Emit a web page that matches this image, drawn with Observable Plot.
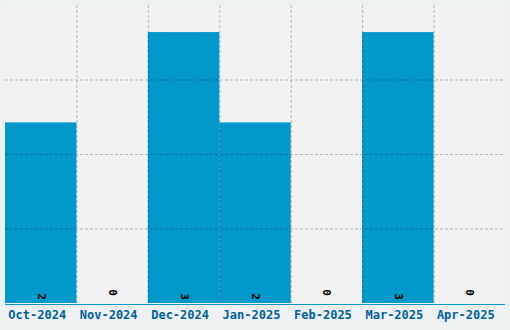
<!DOCTYPE html>
<html>
<head>
<meta charset="utf-8">
<script src="https://cdn.jsdelivr.net/npm/d3@7"></script>
<script src="https://cdn.jsdelivr.net/npm/@observablehq/plot@0.6"></script>
<style>
  html, body { margin: 0; padding: 0; background: #eef1f2; }
  #chart svg { display: block; }
</style>
</head>
<body>
<div id="chart"></div>
<script>
const months = ["Oct-2024", "Nov-2024", "Dec-2024", "Jan-2025", "Feb-2025", "Mar-2025", "Apr-2025"];
const counts = [2, 0, 3, 2, 0, 3, 0];
const gridTicks = [0.825, 1.65, 2.475];

const data = months.map((m, i) => ({month: m, count: counts[i]}));

const W = 510, H = 330, mL = 5, mR = 5, mT = 5, mB = 27;
const halfBand = (W - mL - mR) / months.length / 2;
const FONT = "'DejaVu Sans Mono', monospace";

const chart = Plot.plot({
  width: W,
  height: H,
  marginLeft: mL,
  marginRight: mR,
  marginTop: mT,
  marginBottom: mB,
  style: {background: "#eef1f2", fontFamily: FONT},
  x: {type: "band", domain: months, padding: 0, round: false, label: null},
  y: {domain: [0, 3.3], axis: null},
  marks: [
    Plot.frame({fill: "#f2f2f2", stroke: null}),
    Plot.barY(data, {x: "month", y: "count", fill: "#0099cc"}),
    Plot.gridY(gridTicks, {stroke: "#000", strokeOpacity: 0.25, strokeDasharray: "3,2"}),
    Plot.ruleX(months.slice(1), {x: d => d, dx: -halfBand, stroke: "#000", strokeOpacity: 0.25, strokeDasharray: "3,2"}),
    Plot.ruleY([0], {stroke: "#0099cc", dy: 1}),
    Plot.text(data.filter(d => d.count !== 0), {x: "month", y: 0, text: d => String(d.count), rotate: 90, dy: -7, fill: "#000", fontSize: 11, fontWeight: "bold", fontFamily: FONT}),
    Plot.text(data.filter(d => d.count === 0), {x: "month", y: 0, text: d => String(d.count), rotate: 90, dy: -11, fill: "#000", fontSize: 11, fontWeight: "bold", fontFamily: FONT}),
    Plot.axisX({tickSize: 0, tickPadding: 7, dx: -4, fontSize: 12, fontWeight: "bold", fill: "#00619c", fontFamily: FONT, label: null})
  ]
});
document.getElementById("chart").appendChild(chart);
</script>
</body>
</html>
